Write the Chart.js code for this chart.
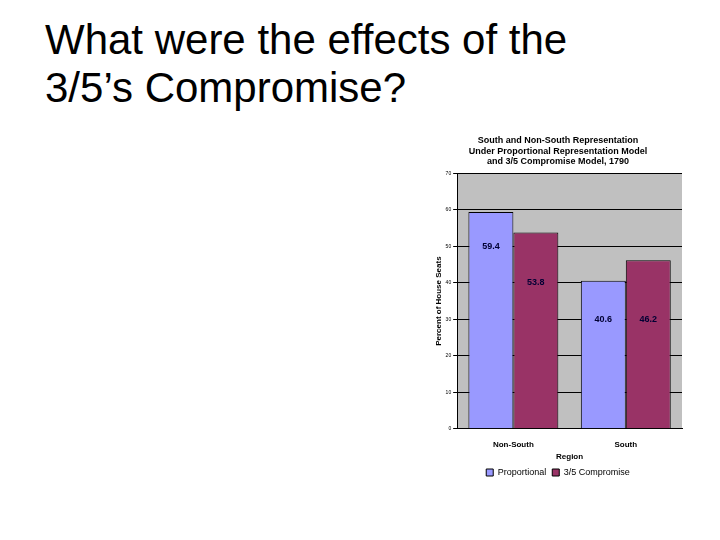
<!DOCTYPE html>
<html><head><meta charset="utf-8">
<script src="https://cdn.jsdelivr.net/npm/chart.js@4"></script>
<style>
body{margin:0;width:720px;height:540px;background:#fff;position:relative;overflow:hidden;font-family:"Liberation Sans",Arial,sans-serif}
h1{position:absolute;left:45px;top:16px;margin:0;font-weight:normal;font-size:42px;line-height:48px;color:#000}
#wrap{position:absolute;left:434px;top:133px;width:254px;height:354px}
</style></head><body>
<h1>What were the effects of the<br>3/5’s Compromise?</h1>
<div id="wrap"><canvas id="c"></canvas></div>
<script>
const categories=["Non-South","South"];
const proportional=[59.4,40.6];
const compromise=[53.8,46.2];
const labelAtProp=[50,30];
const labelAtComp=[40,30];
const F='"Liberation Sans Narrow","Liberation Sans",Arial,sans-serif';
const bg={id:'bg',beforeDraw(c){const a=c.chartArea,x=c.ctx;x.save();x.fillStyle='#c0c0c0';x.fillRect(a.left,a.top,a.right-a.left,a.bottom-a.top);x.restore();}};
const lbl={id:'lbl',afterDatasetsDraw(c){const x=c.ctx,y=c.scales.y;x.save();x.font='bold 9px '+F;x.fillStyle='#000033';x.textAlign='center';x.textBaseline='middle';
[labelAtProp,labelAtComp].forEach((arr,d)=>{c.getDatasetMeta(d).data.forEach((b,i)=>{x.fillText(c.data.datasets[d].data[i].toFixed(1),b.x,y.getPixelForValue(arr[i]));});});x.restore();}};
new Chart(document.getElementById('c'),{type:'bar',
data:{labels:categories,datasets:[
{label:'Proportional',data:proportional,backgroundColor:'#9999ff',borderColor:'#000',borderWidth:1,categoryPercentage:0.8,barPercentage:1},
{label:'3/5 Compromise',data:compromise,backgroundColor:'#993366',borderColor:'#000',borderWidth:1,categoryPercentage:0.8,barPercentage:1}]},
options:{responsive:true,maintainAspectRatio:false,animation:false,
layout:{padding:{right:6}},
plugins:{title:{display:true,text:['South and Non-South Representation','Under Proportional Representation Model','and 3/5 Compromise Model, 1790'],font:{family:F,size:9,weight:'bold'},color:'#000',padding:{top:2,bottom:6},lineHeight:1.15},
legend:{position:'bottom',labels:{boxWidth:7,boxHeight:7,font:{family:F,size:9},color:'#000',padding:6}},tooltip:{enabled:false}},
scales:{x:{grid:{display:false,drawTicks:true},border:{color:'#000'},ticks:{font:{family:F,size:8,weight:'bold'},color:'#000'},title:{display:true,text:'Region',font:{family:F,size:8,weight:'bold'},color:'#000',padding:0}},
y:{min:0,max:70,ticks:{stepSize:10,font:{family:F,size:5},color:'#000',padding:2},grid:{color:'#000',lineWidth:1,tickLength:4},border:{color:'#000'},title:{display:true,text:'Percent of House Seats',font:{family:F,size:8,weight:'bold'},color:'#000',padding:0}}}},
plugins:[bg,lbl]});
</script></body></html>
